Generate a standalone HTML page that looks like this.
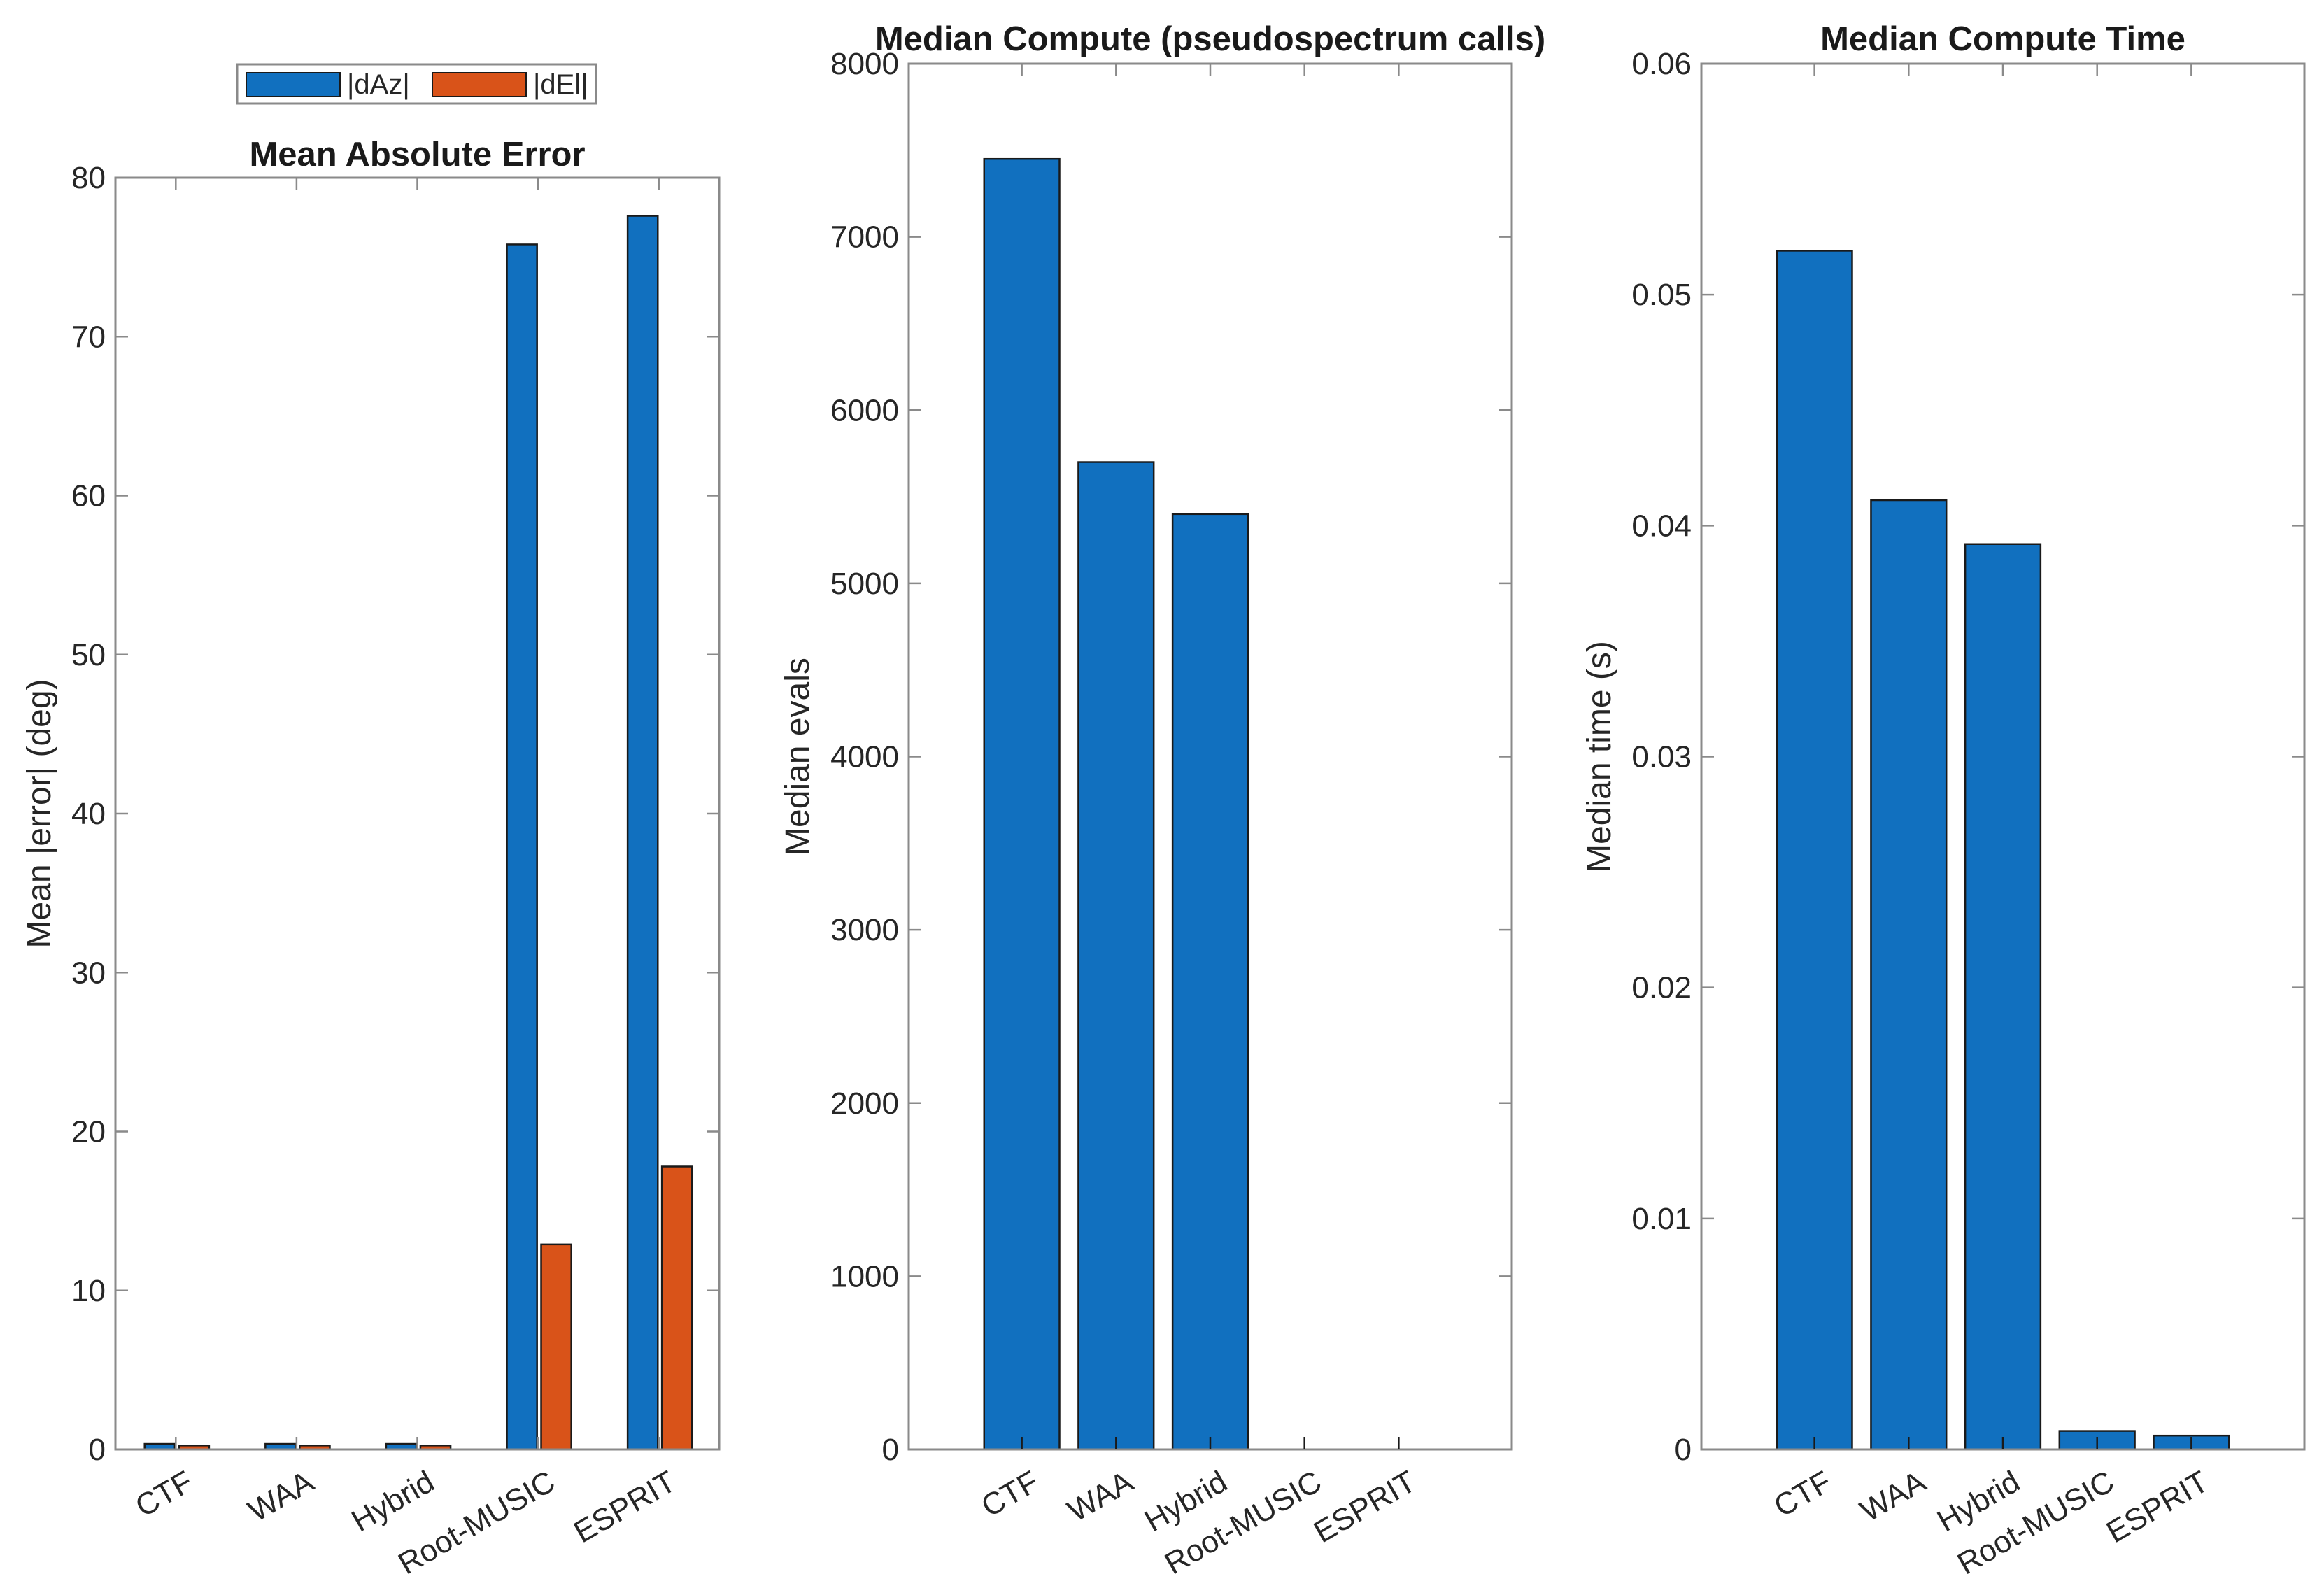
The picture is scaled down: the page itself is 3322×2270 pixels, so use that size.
<!DOCTYPE html>
<html><head><meta charset="utf-8">
<style>
html,body{margin:0;padding:0;background:#fff;}
svg{display:block;font-family:"Liberation Sans",Arial,sans-serif;}
</style></head>
<body>
<svg id="fig" width="3322" height="2270" viewBox="0 0 3322 2270" xmlns="http://www.w3.org/2000/svg">
<rect width="3322" height="2270" fill="#fff"/>
</svg>
<script>
const categories = ["CTF","WAA","Hybrid","Root-MUSIC","ESPRIT"];
const maeAz = [0.35,0.35,0.35,75.8,77.6];
const maeEl = [0.25,0.25,0.25,12.9,17.8];
const evals = [7450,5700,5400,0,0];
const times = [0.0519,0.0411,0.0392,0.0008,0.0006];
const ticks1 = [0,10,20,30,40,50,60,70,80];
const ticks2 = [0,1000,2000,3000,4000,5000,6000,7000,8000];
const ticks3 = [0,0.01,0.02,0.03,0.04,0.05,0.06];
const tickLabels3 = ["0","0.01","0.02","0.03","0.04","0.05","0.06"];

const NS="http://www.w3.org/2000/svg";
const svg=document.getElementById('fig');
function mk(tag,attrs,parent){const e=document.createElementNS(NS,tag);for(const k in attrs)e.setAttribute(k,attrs[k]);(parent||svg).appendChild(e);return e;}
const BLUE="#1170bf", ORANGE="#d95319", AX="#8a8a8a", TXT="#262626";

function axes(cfg){
  const g=mk('g',{});
  
  
  const {L,R,T,B,xmin,xmax,ymax}=cfg;
  const sx=v=>L+(v-xmin)/(xmax-xmin)*(R-L);
  const sy=v=>B-v/ymax*(B-T);
  cfg.series.forEach(s=>{
    s.vals.forEach((v,i)=>{
      const cx=sx(i+1)+s.off;
      const w=s.w*(sx(2)-sx(1));
      const r=mk('rect',{x:cx-w/2,y:sy(v),width:w,height:Math.max(B-sy(v),0),fill:s.color,stroke:"#1a1a1a","stroke-width":2.5},g);
      
      
    });
  });
  const box=mk('rect',{x:L,y:T,width:R-L,height:B-T,fill:"none",stroke:AX,"stroke-width":3},g);
  
  
  categories.forEach((c,i)=>{
    const x=sx(i+1);
    mk('line',{x1:x,y1:B,x2:x,y2:B-18,stroke:cfg.innerTick||AX,"stroke-width":2.5},g);
    mk('line',{x1:x,y1:T,x2:x,y2:T+18,stroke:AX,"stroke-width":2.5},g);
    const t=mk('text',{x:x+12,y:B+28,"text-anchor":"end","dominant-baseline":"hanging","font-size":44,fill:TXT,transform:`rotate(-30 ${x+12} ${B+28})`},g);
    t.textContent=c;
    
    
  });
  cfg.ticks.forEach((v,i)=>{
    const y=sy(v);
    mk('line',{x1:L,y1:y,x2:L+18,y2:y,stroke:AX,"stroke-width":2.5},g);
    mk('line',{x1:R,y1:y,x2:R-18,y2:y,stroke:AX,"stroke-width":2.5},g);
    const t=mk('text',{x:L-14,y:y+15,"text-anchor":"end","font-size":44,fill:TXT},g);
    t.textContent=cfg.tickLabels?cfg.tickLabels[i]:String(v);
    
    
  });
  const ti=mk('text',{x:(L+R)/2,y:cfg.titleY,"text-anchor":"middle","font-size":49,"font-weight":"bold",fill:"#1a1a1a"},g);
  ti.textContent=cfg.title;
  
  
  const yl=mk('text',{x:cfg.ylx,y:(T+B)/2,"text-anchor":"middle","font-size":48,fill:TXT,transform:`rotate(-90 ${cfg.ylx} ${(T+B)/2})`},g);
  yl.textContent=cfg.ylabel;
  
  
}

axes({name:'mae-chart',L:165,R:1028,T:254,B:2072,xmin:0.5,xmax:5.5,ymax:80,ticks:ticks1,
  series:[{key:'daz',vals:maeAz,color:BLUE,off:-23,w:0.25},{key:'del',vals:maeEl,color:ORANGE,off:26,w:0.25}],
  title:"Mean Absolute Error",titleY:237,ylabel:"Mean |error| (deg)",ylx:72});
axes({name:'evals-chart',L:1299,R:2161,T:91,B:2072,xmin:-0.2,xmax:6.2,ymax:8000,ticks:ticks2,
  series:[{key:'evals',vals:evals,color:BLUE,off:0,w:0.8}],innerTick:"#1a1a1a",
  title:"Median Compute (pseudospectrum calls)",titleY:72,ylabel:"Median evals",ylx:1156});
axes({name:'time-chart',L:2432,R:3294,T:91,B:2072,xmin:-0.2,xmax:6.2,ymax:0.06,ticks:ticks3,tickLabels:tickLabels3,
  series:[{key:'time',vals:times,color:BLUE,off:0,w:0.8}],innerTick:"#1a1a1a",
  title:"Median Compute Time",titleY:72,ylabel:"Median time (s)",ylx:2302});

const lg=mk('g',{});


mk('rect',{x:339,y:92,width:513,height:56,fill:"#fff",stroke:AX,"stroke-width":3},lg);
const e1=mk('g',{},lg);


mk('rect',{x:352,y:104,width:134,height:34,fill:BLUE,stroke:"#1a1a1a","stroke-width":2},e1);
const t1=mk('text',{x:496,y:134,"font-size":40,fill:TXT},e1);t1.textContent="|dAz|";
const e2=mk('g',{},lg);


mk('rect',{x:618,y:104,width:134,height:34,fill:ORANGE,stroke:"#1a1a1a","stroke-width":2},e2);
const t2=mk('text',{x:762,y:134,"font-size":40,fill:TXT},e2);t2.textContent="|dEl|";
</script>
</body></html>
